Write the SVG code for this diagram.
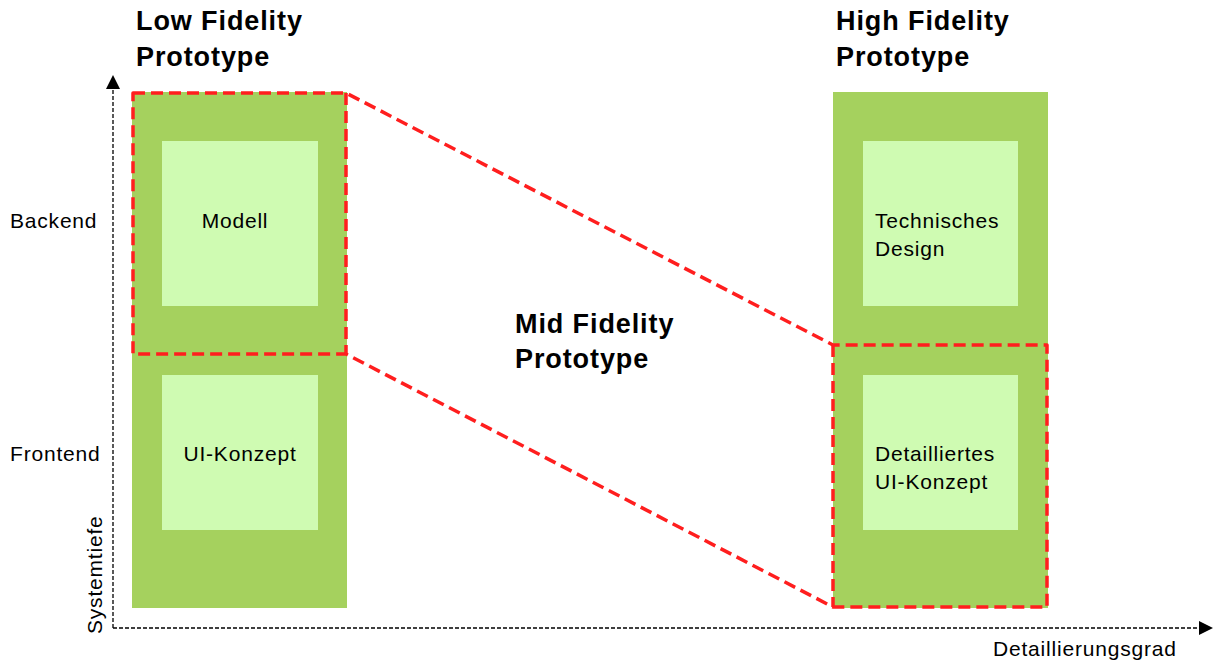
<svg xmlns="http://www.w3.org/2000/svg" width="1226" height="662" viewBox="0 0 1226 662">
<defs>
<style>
.col{fill:#a5d15e}
.inner{fill:#cffbb2}
.t{font-family:"Liberation Sans",Arial,sans-serif;font-size:21px;letter-spacing:0.8px;fill:#000}
.h{font-family:"Liberation Sans",Arial,sans-serif;font-size:27px;letter-spacing:0.9px;font-weight:bold;fill:#000}
.red{fill:none;stroke:#ff1e1e;stroke-width:3.5;stroke-dasharray:12 6;stroke-linejoin:round}
.axis{fill:none;stroke:#000;stroke-width:1.3;stroke-dasharray:4 2}
</style>
<marker id="ah" viewBox="0 0 10 10" refX="0" refY="5" markerWidth="14" markerHeight="14" markerUnits="userSpaceOnUse" orient="auto"><path d="M0,0 L10,5 L0,10 Z" fill="#000"/></marker>
</defs>
<rect width="1226" height="662" fill="#fff"/>
<g id="low">
<rect class="col" x="132" y="92" width="215" height="516"/>
<text class="h" x="136" y="30">Low Fidelity</text>
<text class="h" x="136" y="66">Prototype</text>
</g>
<g id="modell">
<rect class="inner" x="162" y="141" width="156" height="165"/>
<text class="t" x="235" y="228" text-anchor="middle">Modell</text>
</g>
<g id="ui-konzept">
<rect class="inner" x="162" y="375" width="156" height="155"/>
<text class="t" x="240" y="461" text-anchor="middle">UI-Konzept</text>
</g>
<g id="high">
<rect class="col" x="833" y="92" width="215" height="516"/>
<text class="h" x="836" y="30">High Fidelity</text>
<text class="h" x="836" y="66">Prototype</text>
</g>
<g id="technisches-design">
<rect class="inner" x="863" y="141" width="155" height="165"/>
<text class="t" x="875" y="228">Technisches</text>
<text class="t" x="875" y="256">Design</text>
</g>
<g id="detailliertes-ui">
<rect class="inner" x="863" y="375" width="155" height="155"/>
<text class="t" x="875" y="461">Detailliertes</text>
<text class="t" x="875" y="489">UI-Konzept</text>
</g>
<g id="mid">
<text class="h" x="515" y="333">Mid Fidelity</text>
<text class="h" x="515" y="368">Prototype</text>
</g>
<g id="connectors">
<path class="red" d="M133,93 L346,93 L833,345 L1047,345 L1047,607 L833,607 L346,354 L133,354 Z"/>
<path class="red" d="M346,93 L346,354 M833,345 L833,607"/>
<path class="axis" d="M113,628 L113,89" marker-end="url(#ah)"/>
<path class="axis" d="M113,628 L1199,628" marker-end="url(#ah)"/>
</g>
<g id="labels">
<text class="t" x="10" y="228">Backend</text>
<text class="t" x="10" y="461">Frontend</text>
<text class="t" x="0" y="0" transform="translate(102,634) rotate(-90)">Systemtiefe</text>
<text class="t" x="993" y="656">Detaillierungsgrad</text>
</g>
</svg>
